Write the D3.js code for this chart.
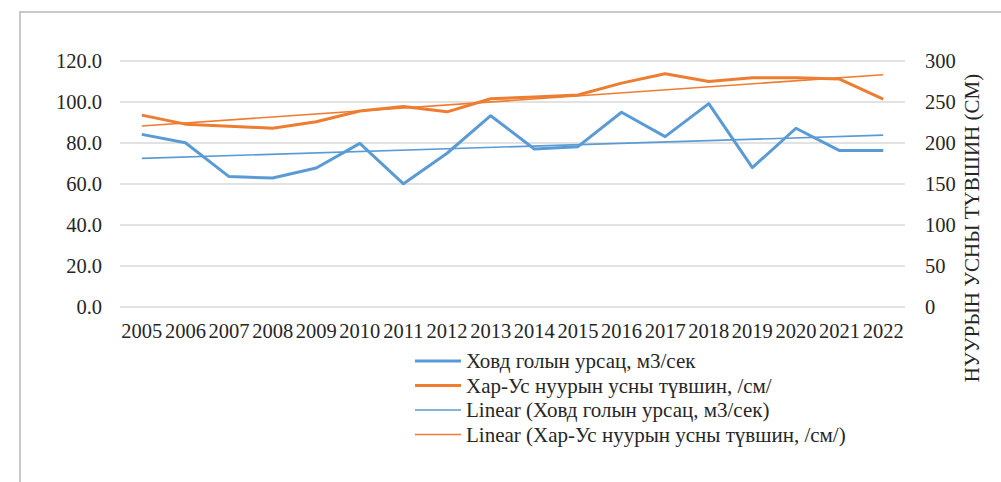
<!DOCTYPE html>
<html>
<head>
<meta charset="utf-8">
<script src="https://cdn.jsdelivr.net/npm/d3@7"></script>
<style>
  body { margin: 0; background: #fff; }
  svg text { font-family: "Liberation Serif", "Times New Roman", serif; fill: #262626; }
</style>
</head>
<body>
<div id="chart"></div>
<script>
const years = ['2005','2006','2007','2008','2009','2010','2011','2012','2013','2014','2015','2016','2017','2018','2019','2020','2021','2022'];
const flow = [84.2, 80.1, 63.6, 62.9, 67.8, 79.8, 60.1, 75.0, 93.3, 77.1, 78.2, 95.0, 83.1, 99.2, 68.0, 87.2, 76.3, 76.3];
const level = [234, 223, 220.5, 218, 226, 239, 244.5, 238, 254, 256, 258.5, 273, 284.5, 275, 279.5, 279.5, 278, 253.5];
const leftTicks = [0, 20, 40, 60, 80, 100, 120];
const rightTicks = [0, 50, 100, 150, 200, 250, 300];
const seriesNames = ['Ховд голын урсац, м3/сек', 'Хар-Ус нуурын усны түвшин, /см/'];

const width = 1001;
const height = 482;
const margin = { top: 61, bottom: 175, left: 120, right: 96 };
const blue = '#5b9bd5', orange = '#ed7d31';

const svg = d3.select('#chart')
    .append('svg')
    .attr('width', width)
    .attr('height', height);

// frame (only top and left visible)
svg.append('path')
    .attr('d', 'M20,' + height + ' V12 H' + width)
    .attr('fill', 'none')
    .attr('stroke', '#c9c9cd')
    .attr('stroke-width', 2);

var x = d3.scaleBand()
    .domain(years)
    .range([margin.left, width - margin.right]);

var yL = d3.scaleLinear()
    .domain([0, 120])
    .range([height - margin.bottom, margin.top]);

var yR = d3.scaleLinear()
    .domain([0, 300])
    .range([height - margin.bottom, margin.top]);

const cx = d => x(d) + x.bandwidth() / 2;

// gridlines
svg.append('g')
    .selectAll('line')
    .data(leftTicks)
    .join('line')
    .attr('x1', margin.left)
    .attr('x2', width - margin.right)
    .attr('y1', d => yL(d))
    .attr('y2', d => yL(d))
    .attr('stroke', '#d9d9d9')
    .attr('stroke-width', 1.5);

function styleTicks(sel) {
  sel.attr('font-size', '20.5px')
    .attr('font-family', '"Liberation Serif", serif')
    .attr('fill', '#262626');
}

function leftAxis(g) {
  g.attr('transform', 'translate(' + (margin.left - 15) + ',0)')
    .call(d3.axisLeft(yL).tickValues(leftTicks).tickFormat(d3.format('.1f')).tickSize(0))
    .call(g => g.select('.domain').remove())
    .selectAll('text').call(styleTicks);
}

function rightAxis(g) {
  g.attr('transform', 'translate(' + (width - margin.right + 17) + ',0)')
    .call(d3.axisRight(yR).tickValues(rightTicks).tickSize(0))
    .call(g => g.select('.domain').remove())
    .selectAll('text').call(styleTicks);
}

function xAxis(g) {
  g.attr('transform', 'translate(0,' + (height - margin.bottom + 13) + ')')
    .call(d3.axisBottom(x).tickSize(0))
    .call(g => g.select('.domain').remove())
    .selectAll('text').call(styleTicks);
}

svg.append('g').call(leftAxis);
svg.append('g').call(rightAxis);
svg.append('g').call(xAxis);

// right axis title
svg.append('text')
    .attr('transform', 'translate(979,228) rotate(-90)')
    .attr('text-anchor', 'middle')
    .attr('font-size', '21px')
    .text('НУУРЫН УСНЫ ТҮВШИН (СМ)');

// linear trend (least squares on index)
function trend(vals) {
  const n = vals.length;
  const xs = d3.range(n);
  const mx = d3.mean(xs), my = d3.mean(vals);
  const b = d3.sum(xs, i => (i - mx) * (vals[i] - my)) / d3.sum(xs, i => (i - mx) ** 2);
  const a = my - b * mx;
  return [a, a + b * (n - 1)];
}

const flowTrend = trend(flow);
const levelTrend = trend(level);

svg.append('line')
    .attr('x1', cx(years[0])).attr('x2', cx(years[years.length - 1]))
    .attr('y1', yL(flowTrend[0])).attr('y2', yL(flowTrend[1]))
    .attr('stroke', blue).attr('stroke-width', 1.6);

svg.append('line')
    .attr('x1', cx(years[0])).attr('x2', cx(years[years.length - 1]))
    .attr('y1', yR(levelTrend[0])).attr('y2', yR(levelTrend[1]))
    .attr('stroke', orange).attr('stroke-width', 1.6);

const lineL = d3.line().x((d, i) => cx(years[i])).y(d => yL(d));
const lineR = d3.line().x((d, i) => cx(years[i])).y(d => yR(d));

svg.append('path')
    .datum(flow)
    .attr('d', lineL)
    .attr('fill', 'none')
    .attr('stroke', blue)
    .attr('stroke-width', 3)
    .attr('stroke-linejoin', 'round');

svg.append('path')
    .datum(level)
    .attr('d', lineR)
    .attr('fill', 'none')
    .attr('stroke', orange)
    .attr('stroke-width', 3)
    .attr('stroke-linejoin', 'round');

// legend
const legendItems = [
  { name: seriesNames[0], color: blue, w: 3 },
  { name: seriesNames[1], color: orange, w: 3 },
  { name: 'Linear (' + seriesNames[0] + ')', color: blue, w: 1.6 },
  { name: 'Linear (' + seriesNames[1] + ')', color: orange, w: 1.6 }
];

const legend = svg.append('g')
    .attr('transform', 'translate(415,361)')
    .selectAll('g')
    .data(legendItems)
    .join('g')
    .attr('transform', (d, i) => 'translate(0,' + (i * 24.5) + ')');

legend.append('line')
    .attr('x1', 0).attr('x2', 46)
    .attr('stroke', d => d.color)
    .attr('stroke-width', d => d.w);

legend.append('text')
    .attr('x', 51)
    .attr('dy', '0.35em')
    .attr('font-size', '21px')
    .text(d => d.name);
</script>
</body>
</html>
